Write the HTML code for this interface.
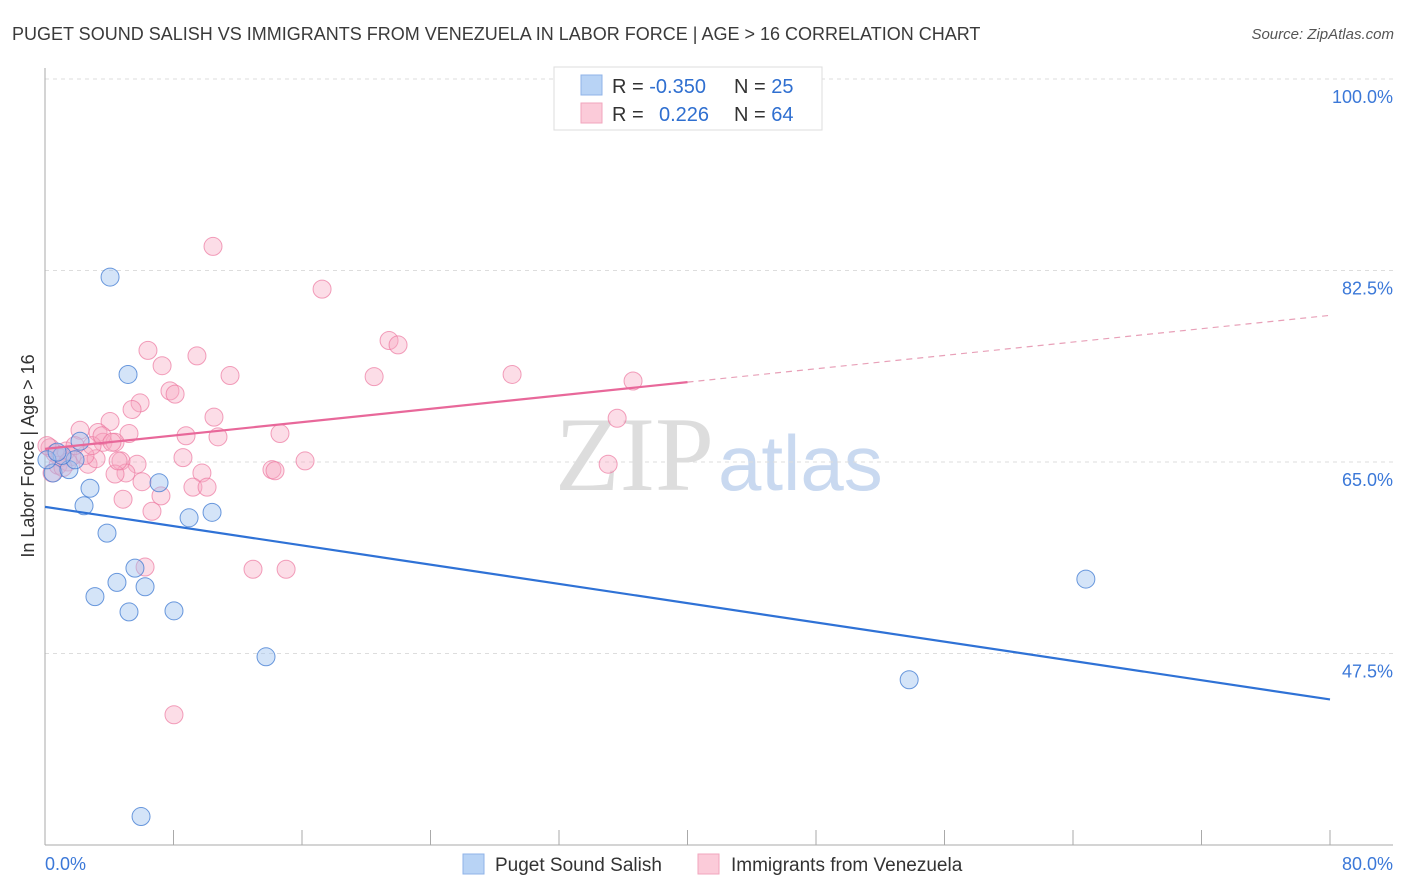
<!DOCTYPE html>
<html><head><meta charset="utf-8"><style>
body{margin:0;background:#fff;font-family:"Liberation Sans",sans-serif}
svg{display:block}
</style></head><body>
<svg id="chart" width="1406" height="892">
<text x="12" y="40" font-size="18" fill="#3a3a3a">PUGET SOUND SALISH VS IMMIGRANTS FROM VENEZUELA IN LABOR FORCE | AGE &gt; 16 CORRELATION CHART</text>
<text x="1394" y="39" font-size="15" fill="#555" text-anchor="end" font-style="italic">Source: ZipAtlas.com</text>
<text x="714" y="490" font-size="106" fill="#ddd" text-anchor="end" font-family="Liberation Serif">ZIP</text>
<text x="718" y="490" font-size="78" fill="#c9d9f0">atlas</text>
<g id="grid"></g><g id="axes"></g><g id="pts"></g><g id="lines"></g>
<text transform="translate(34,456) rotate(-90)" font-size="18" fill="#333" text-anchor="middle">In Labor Force | Age &gt; 16</text>
<g>
<rect x="554" y="67" width="268" height="63" fill="#fff" stroke="#ddd"/>
<rect x="581" y="75" width="21" height="20" fill="#b8d3f5" stroke="#8fb3e8"/>
<rect x="581" y="103" width="21" height="20" fill="#fbcbd9" stroke="#f2a6bd"/>
<text x="612" y="93" font-size="20" fill="#333">R = <tspan fill="#2f6fd0">-0.350</tspan><tspan x="734">N = </tspan><tspan fill="#2f6fd0">25</tspan></text>
<text x="612" y="121" font-size="20" fill="#333">R = <tspan x="659" fill="#2f6fd0">0.226</tspan><tspan x="734">N = </tspan><tspan fill="#2f6fd0">64</tspan></text>
</g>
<g>
<rect x="463" y="854" width="21" height="20" fill="#b8d3f5" stroke="#8fb3e8"/>
<text x="495" y="871" font-size="19" fill="#333">Puget Sound Salish</text>
<rect x="698" y="854" width="21" height="20" fill="#fbcbd9" stroke="#f2a6bd"/>
<text x="731" y="871" font-size="19" fill="#333">Immigrants from Venezuela</text>
</g>
</svg>
<script>
const yTicks=[100,82.5,65,47.5];
const xLabels=["0.0%","80.0%"];
const blueX=[4.05,5.17,0.5,1.49,1.87,1.06,2.18,2.8,2.43,3.86,7.1,8.97,10.4,5.6,4.48,6.23,3.11,5.23,8.03,13.76,5.98,53.8,64.8,0.12,0.75];
const blueY=[81.9,73.0,64.0,64.3,65.2,65.6,66.9,62.6,61.0,58.5,63.1,59.9,60.4,55.3,54.0,53.6,52.7,51.3,51.4,47.2,32.6,45.1,54.3,65.2,65.9];
const pinkX=[10.46,17.25,21.42,21.98,6.41,9.46,7.29,11.52,20.49,29.08,36.61,7.78,8.1,5.92,5.42,10.52,35.62,4.05,8.78,10.77,14.63,5.23,2.18,3.3,3.61,4.36,16.19,8.59,14.13,14.32,35.06,5.73,4.73,2.68,3.18,9.77,5.04,4.36,6.04,9.21,10.09,7.22,4.86,6.66,6.23,12.95,15.01,8.03,0.31,0.62,0.93,1.31,1.68,0.44,0.81,1.43,2.49,1.12,0.12,1.87,2.93,3.55,4.17,4.55];
const pinkY=[84.7,80.8,76.1,75.7,75.2,74.7,73.8,72.9,72.8,73.0,72.4,71.5,71.2,70.4,69.8,69.1,69.0,68.7,67.4,67.3,67.6,67.6,67.9,67.7,66.8,66.8,65.1,65.4,64.3,64.2,64.8,64.8,65.1,64.8,65.3,64.0,64.0,63.9,63.2,62.7,62.7,61.9,61.6,60.5,55.4,55.2,55.2,41.9,66.3,65.8,65.4,66.0,65.5,64.0,64.7,65.0,65.6,64.5,66.5,66.5,66.5,67.4,66.8,65.1];
const blueLine=[60.9,43.3];
const pinkLine=[66.2,78.4];
const pinkSolidEnd=40;
const NS="http://www.w3.org/2000/svg";
const X=v=>45+v*1285/80;
const Y=v=>79+(100-v)*191.5/17.5;
function mk(t,a,p){const e=document.createElementNS(NS,t);for(const k in a)e.setAttribute(k,a[k]);document.getElementById(p).appendChild(e);return e;}
yTicks.forEach(t=>{
 const l=mk('line',{x1:45,x2:1393,y1:Y(t),y2:Y(t),stroke:'#ddd','stroke-dasharray':'4,4'},'grid');
 
 
 const tx=mk('text',{x:1393,y:Y(t)+24,'font-size':18,fill:'#3b78d8','text-anchor':'end'},'grid');
 tx.textContent=(t===100?'100.0':t.toFixed(1))+'%';
 
 
});
let a=mk('line',{x1:45,x2:45,y1:68,y2:845,stroke:'#aaa'},'axes');


a=mk('line',{x1:45,x2:1393,y1:845,y2:845,stroke:'#aaa'},'axes');


for(let i=0;i<=10;i++){const t=mk('line',{x1:X(i*8),x2:X(i*8),y1:830,y2:845,stroke:'#aaa'},'axes');
 
 }
[[0,'start',45],[80,'end',1393]].forEach((d,i)=>{const t=mk('text',{x:d[2],y:870,'font-size':18,fill:'#3b78d8','text-anchor':d[1]},'axes');t.textContent=xLabels[i];
 
 });
pinkX.forEach((x,i)=>{const c=mk('circle',{cx:X(x),cy:Y(pinkY[i]),r:9,fill:'rgba(248,170,195,0.4)',stroke:'rgba(236,120,160,0.7)','stroke-width':1},'pts');
 
 });
blueX.forEach((x,i)=>{const c=mk('circle',{cx:X(x),cy:Y(blueY[i]),r:9,fill:'rgba(160,195,240,0.45)',stroke:'rgba(60,120,210,0.75)','stroke-width':1},'pts');
 
 });
let L=mk('line',{x1:X(0),y1:Y(blueLine[0]),x2:X(80),y2:Y(blueLine[1]),stroke:'#2f72d6','stroke-width':2.2},'lines');


const pm=pinkLine[0]+(pinkLine[1]-pinkLine[0])*pinkSolidEnd/80;
L=mk('line',{x1:X(0),y1:Y(pinkLine[0]),x2:X(pinkSolidEnd),y2:Y(pm),stroke:'#e8689a','stroke-width':2.2},'lines');


L=mk('line',{x1:X(pinkSolidEnd),y1:Y(pm),x2:X(80),y2:Y(pinkLine[1]),stroke:'#e8a0b8','stroke-width':1.2,'stroke-dasharray':'6,5'},'lines');


</script>
</body></html>
